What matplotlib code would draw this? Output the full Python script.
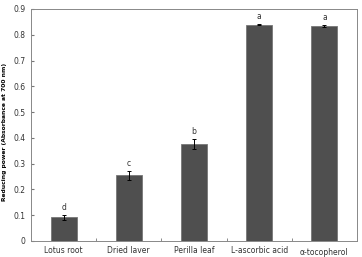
import matplotlib
matplotlib.use('Agg')
import matplotlib.pyplot as plt
import numpy as np

samples = ['Lotus root', 'Dried laver', 'Perilla leaf', 'L-ascorbic acid', 'α-tocopherol']
power = [0.092, 0.255, 0.375, 0.838, 0.834]
err = [0.010, 0.018, 0.020, 0.002, 0.002]
letters = ['d', 'c', 'b', 'a', 'a']
yticks = [0, 0.1, 0.2, 0.3, 0.4, 0.5, 0.6, 0.7, 0.8, 0.9]

fig = plt.figure(figsize=(3.62, 2.57), dpi=100)
ax = fig.add_axes([31/362, 16/257, 326/362, 232/257])

x = np.arange(len(samples))
ax.bar(x, power, width=0.4, color='#4f4f4f', edgecolor='#777777', linewidth=0.6,
       yerr=err, error_kw=dict(ecolor='black', elinewidth=0.7, capsize=1.5, capthick=0.7))
for xi, v, e, l in zip(x, power, err, letters):
    ax.text(xi, v + e + 0.012, l, ha='center', va='bottom', fontsize=5.5, color='#333333')

ax.set_xlim(-0.5, len(samples) - 0.5)
ax.set_ylim(0, 0.9)
ax.set_yticks(yticks)
ax.set_yticklabels(['0' if t == 0 else '%g' % t for t in yticks], fontsize=5.5, color='#333333')
ax.set_xticks(x)
ax.set_xticklabels(samples, fontsize=5.5, color='#333333')
for lab in ax.get_xticklabels()[-1:]:
    lab.set_y(-0.01)
ax.set_xticks(np.arange(len(samples) - 1) + 0.5, minor=True)
ax.tick_params(axis='x', which='major', length=0, pad=3.5)
ax.tick_params(axis='x', which='minor', direction='in', length=2.5, color='#777777')
ax.tick_params(axis='y', direction='in', length=2.5, color='#777777', pad=4)
for s in ax.spines.values():
    s.set_color('#888888')
    s.set_linewidth(0.7)
fig.text(5/362, 1 - 132/257, 'Reducing power (Absorbance at 700 nm)', fontsize=4.3,
         fontweight='bold', rotation=90, ha='center', va='center')

fig.savefig('out.png', dpi=100)
